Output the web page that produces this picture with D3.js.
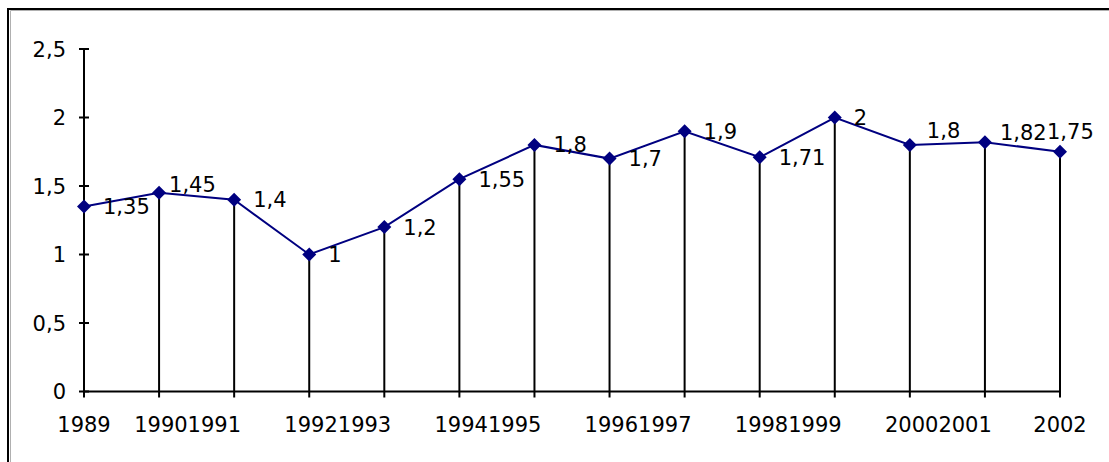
<!DOCTYPE html>
<html>
<head>
<meta charset="utf-8">
<script src="https://cdn.jsdelivr.net/npm/d3@7"></script>
<style>
  html, body { margin: 0; padding: 0; background: #fff; }
  svg { display: block; }
  text { font-family: "DejaVu Sans", sans-serif; font-size: 21px; fill: #000; }
</style>
</head>
<body>
<svg id="chart" width="1109" height="462"></svg>
<script>
// ---- data ----
const years = ["1989","1990","1991","1992","1993","1994","1995","1996","1997","1998","1999","2000","2001","2002"];
const values = [1.35, 1.45, 1.4, 1, 1.2, 1.55, 1.8, 1.7, 1.9, 1.71, 2, 1.8, 1.82, 1.75];
const valueLabels = ["1,35","1,45","1,4","1","1,2","1,55","1,8","1,7","1,9","1,71","2","1,8","1,82","1,75"];
const yTicks = [0, 0.5, 1, 1.5, 2, 2.5];
const yTickLabels = ["0","0,5","1","1,5","2","2,5"];

// ---- layout ----
const svg = d3.select("#chart");
const W = 1109, H = 462;
const x = d3.scalePoint().domain(years).range([84, 1060]);
const y = d3.scaleLinear().domain([0, 2.5]).range([391.5, 49]);

// outer border (extends past right/bottom edges)
svg.append("rect").attr("x", 8).attr("y", 9).attr("width", W + 20).attr("height", H + 20)
  .attr("fill", "#fff").attr("stroke", "#000").attr("stroke-width", 2);
svg.append("path").attr("d", `M10.5,${H} V10.5 H${W}`).attr("fill", "none")
  .attr("stroke", "#b0b0b0").attr("stroke-width", 1);

// drop lines
svg.append("g").selectAll("line").data(values).join("line")
  .attr("x1", (d, i) => x(years[i])).attr("x2", (d, i) => x(years[i]))
  .attr("y1", d => y(d)).attr("y2", y(0))
  .attr("stroke", "#000").attr("stroke-width", 2);

// y axis
const yAxis = svg.append("g");
yAxis.append("line").attr("x1", 84).attr("x2", 84).attr("y1", y(2.5)).attr("y2", y(0))
  .attr("stroke", "#000").attr("stroke-width", 2);
yAxis.selectAll("line.t").data(yTicks).join("line").attr("class", "t")
  .attr("x1", 79).attr("x2", 89).attr("y1", d => y(d)).attr("y2", d => y(d))
  .attr("stroke", "#000").attr("stroke-width", 2);
yAxis.selectAll("text").data(yTicks).join("text")
  .attr("x", 66).attr("y", d => y(d)).attr("dy", "0.36em")
  .attr("text-anchor", "end").text((d, i) => yTickLabels[i]);

// x axis
const xAxis = svg.append("g");
xAxis.append("line").attr("x1", 83).attr("x2", 1061).attr("y1", y(0)).attr("y2", y(0))
  .attr("stroke", "#000").attr("stroke-width", 2);
xAxis.selectAll("line.t").data(years).join("line").attr("class", "t")
  .attr("x1", d => x(d)).attr("x2", d => x(d)).attr("y1", y(0)).attr("y2", y(0) + 6)
  .attr("stroke", "#000").attr("stroke-width", 2);
const n = years.length;
xAxis.selectAll("text").data(years).join("text")
  .attr("y", 432)
  .attr("x", (d, i) => {
    if (i === 0 || i === n - 1) return x(d);
    const a = (i % 2 === 1) ? i : i - 1;
    return (x(years[a]) + x(years[a + 1])) / 2 - 9;
  })
  .attr("text-anchor", (d, i) => (i === 0 || i === n - 1) ? "middle" : (i % 2 === 1 ? "end" : "start"))
  .text(d => d);

// series line
svg.append("path").datum(values)
  .attr("d", d3.line().x((d, i) => x(years[i])).y(d => y(d)))
  .attr("fill", "none").attr("stroke", "#000080").attr("stroke-width", 2);

// markers
svg.append("g").selectAll("path").data(values).join("path")
  .attr("transform", (d, i) => `translate(${x(years[i])},${y(d)})`)
  .attr("d", "M0,-7 L7,0 L0,7 L-7,0 Z")
  .attr("fill", "#000080");

// data labels (right of point; a few nudged as in the original)
const labelNudge = { 1: [10, -8], 11: [17, -14], 12: [15, -10], 13: [-13, -20] };
svg.append("g").selectAll("text").data(values).join("text")
  .attr("x", (d, i) => x(years[i]) + (labelNudge[i] ? labelNudge[i][0] : 19))
  .attr("y", (d, i) => y(d) + (labelNudge[i] ? labelNudge[i][1] : 0))
  .attr("dy", "0.36em")
  .text((d, i) => valueLabels[i]);
</script>
</body>
</html>
